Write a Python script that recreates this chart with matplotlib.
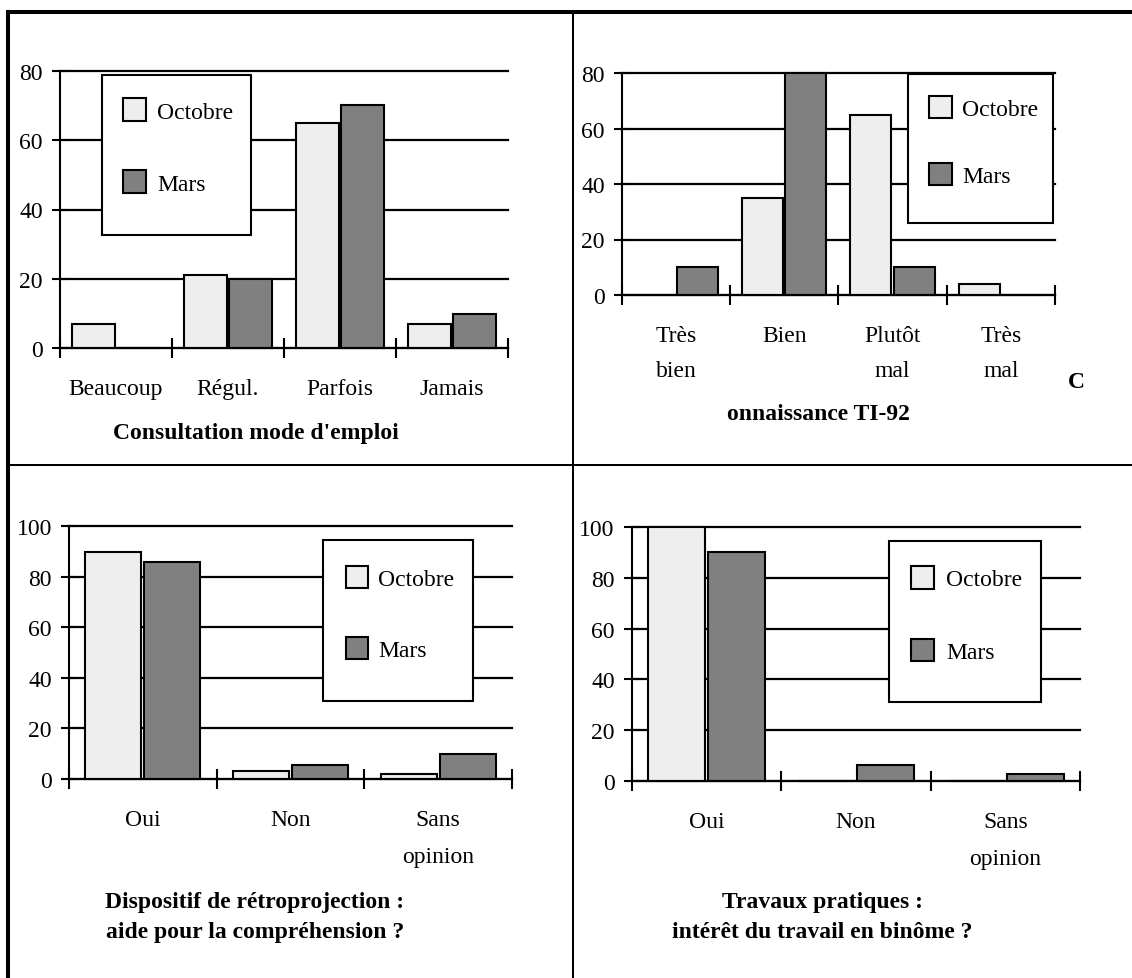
import numpy as np
import matplotlib
matplotlib.use("Agg")
import matplotlib.pyplot as plt
from matplotlib.patches import Rectangle
from matplotlib.lines import Line2D

plt.rcParams['font.family'] = ['Liberation Serif', 'DejaVu Serif']

W, H, DPI = 1132, 979, 100
FS = 17
FS_PX = FS * DPI / 72.0

series_names = ["Octobre", "Mars"]
oct_color = "#eeeeee"
mars_color = "#808080"

# ---- data ----
p1_categories = ["Beaucoup", "Régul.", "Parfois", "Jamais"]
p1_octobre = [7, 21, 65, 7]
p1_mars = [0, 20, 70, 10]
p1_yticks = [0, 20, 40, 60, 80]
p1_title = "Consultation mode d'emploi"

p2_categories = ["Très\nbien", "Bien", "Plutôt\nmal", "Très\nmal"]
p2_octobre = [0, 35, 65, 4]
p2_mars = [10, 80, 10, 0]
p2_yticks = [0, 20, 40, 60, 80]
p2_title = "onnaissance TI-92"
p2_title_letter = "C"

p3_categories = ["Oui", "Non", "Sans\nopinion"]
p3_octobre = [90, 3, 2]
p3_mars = [86, 5.5, 10]
p3_yticks = [0, 20, 40, 60, 80, 100]
p3_title = ["Dispositif de rétroprojection :", "aide pour la compréhension ?"]

p4_categories = ["Oui", "Non", "Sans\nopinion"]
p4_octobre = [100, 0, 0]
p4_mars = [90, 6.5, 3]
p4_yticks = [0, 20, 40, 60, 80, 100]
p4_title = ["Travaux pratiques :", "intérêt du travail en binôme ?"]

fig = plt.figure(figsize=(W / DPI, H / DPI), dpi=DPI)


def fx(px):
    return px / W


def fy(py):
    return 1 - py / H


def draw_panel(axrect, cats, octv, marsv, yticks, legbox, legpatch, rowgap, labx, lsp):
    x0, x1, yz, yt = axrect
    ax = fig.add_axes([fx(x0), fy(yz), (x1 - x0) / W, (yz - yt) / H])
    ax.patch.set_visible(False)
    n = len(cats)
    centers = np.arange(n) + 0.5
    b1 = ax.bar(centers - 0.2, octv, 0.38, color=oct_color, edgecolor='black',
                linewidth=1.5, label=series_names[0], zorder=3, clip_on=False)
    b2 = ax.bar(centers + 0.2, marsv, 0.38, color=mars_color, edgecolor='black',
                linewidth=1.5, label=series_names[1], zorder=3, clip_on=False)
    ax.set_xlim(0, n)
    ax.set_ylim(0, yticks[-1])
    ax.set_yticks(yticks)
    ax.yaxis.grid(True, color='black', linewidth=1.6)
    ax.set_axisbelow(True)
    for gl in ax.get_ygridlines():
        gl.set_clip_on(False)
    ax.set_xticks(np.arange(n + 1))
    ax.set_xticklabels([])
    ax.set_xticks(centers, minor=True)
    ax.set_xticklabels(cats, minor=True)
    for lab in ax.get_xticklabels(minor=True):
        lab.set_linespacing(lsp)
    ax.tick_params(axis='x', which='major', direction='inout', length=13.7, width=1.5)
    ax.tick_params(axis='x', which='minor', length=0, pad=21.5, labelsize=FS)
    ax.tick_params(axis='y', direction='inout', length=11.5, width=1.5, pad=6.5,
                   labelsize=FS)
    for s in ['top', 'right']:
        ax.spines[s].set_visible(False)
    for s in ['left', 'bottom']:
        ax.spines[s].set_linewidth(1.5)
        ax.spines[s].set_zorder(4)

    # legend frame
    lx0, lx1, ly0, ly1 = legbox
    fig.add_artist(Rectangle((fx(lx0), fy(ly1)), (lx1 - lx0) / W, (ly1 - ly0) / H,
                             transform=fig.transFigure, facecolor='white',
                             edgecolor='black', linewidth=1.5, zorder=5))
    px0, px1, py0, py1 = legpatch
    pw = (px1 - px0) / FS_PX
    ph = (py1 - py0) / FS_PX
    leg = fig.legend(handles=[b1, b2], labels=series_names, loc='upper left',
                     bbox_to_anchor=(fx(px0), fy(py0)), bbox_transform=fig.transFigure,
                     frameon=False, borderpad=0, borderaxespad=0,
                     handlelength=pw, handleheight=ph,
                     handletextpad=(labx - px1) / FS_PX,
                     labelspacing=rowgap, fontsize=FS)
    leg.set_zorder(6)
    for p in leg.get_patches():
        p.set_linewidth(1.5)
    return ax


draw_panel((60, 508, 349.3, 71.7), p1_categories, p1_octobre, p1_mars, p1_yticks,
           (102, 251, 76, 236), (123, 146, 99, 126), 2.0, 157, 1.86)
draw_panel((621.7, 1055, 296, 74), p2_categories, p2_octobre, p2_mars, p2_yticks,
           (908, 1053, 75, 224), (929, 952, 97, 122), 1.8, 962, 1.86)
draw_panel((69, 512, 780, 527.3), p3_categories, p3_octobre, p3_mars, p3_yticks,
           (323, 473, 541, 702), (346, 368, 567, 592), 2.0, 378, 2.0)
draw_panel((631.7, 1080, 782.3, 527.7), p4_categories, p4_octobre, p4_mars, p4_yticks,
           (889, 1041, 542, 703), (911, 934, 567, 593), 2.05, 946, 2.0)

# titles
tkw = dict(fontsize=FS, fontweight='bold', ha='center', va='center')
fig.text(fx(256), fy(434), p1_title, **tkw)
fig.text(fx(1076), fy(383), p2_title_letter, **tkw)
fig.text(fx(818), fy(414), p2_title, **tkw)
fig.text(fx(255), fy(903), p3_title[0], **tkw)
fig.text(fx(255), fy(933), p3_title[1], **tkw)
fig.text(fx(823), fy(903), p4_title[0], **tkw)
fig.text(fx(822), fy(933), p4_title[1], **tkw)

# panel borders
fig.add_artist(Line2D([fx(8), fx(W + 5)], [fy(13), fy(13)], transform=fig.transFigure,
                      color='black', linewidth=2.9, solid_capstyle='projecting'))
fig.add_artist(Line2D([fx(8), fx(8)], [fy(13), fy(H + 5)], transform=fig.transFigure,
                      color='black', linewidth=2.9, solid_capstyle='projecting'))
fig.add_artist(Line2D([fx(573), fx(573)], [fy(13), fy(H + 5)], transform=fig.transFigure,
                      color='black', linewidth=1.45))
fig.add_artist(Line2D([fx(8), fx(W + 5)], [fy(466.3), fy(466.3)], transform=fig.transFigure,
                      color='black', linewidth=1.45))

fig.savefig("out.png", dpi=DPI)
